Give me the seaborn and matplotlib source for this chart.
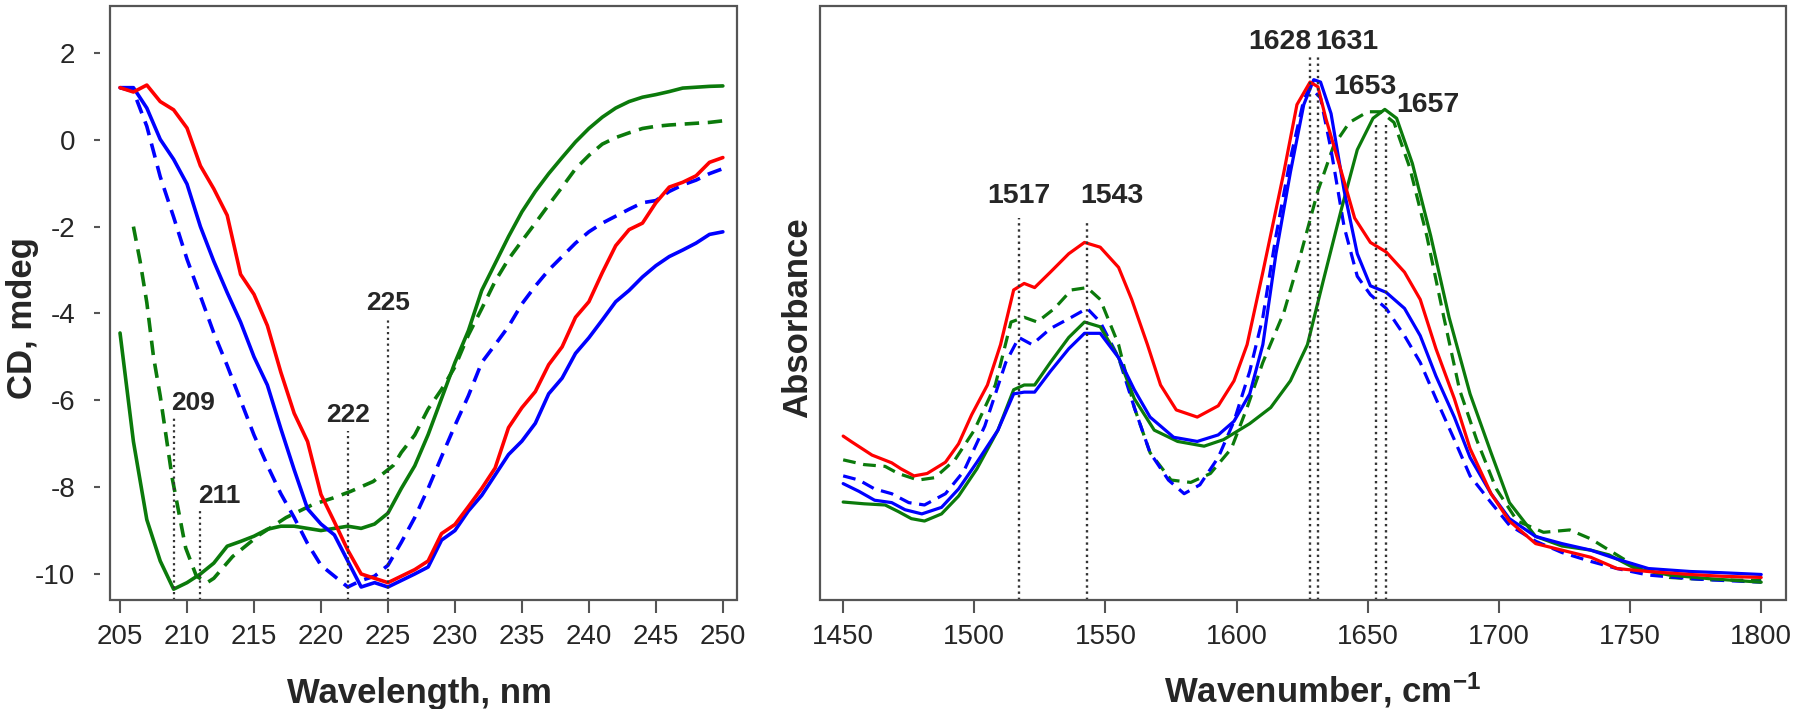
import numpy as np
import pandas as pd
import matplotlib
matplotlib.use("Agg")
import matplotlib.pyplot as plt
from matplotlib.patches import Rectangle
import seaborn as sns

# ---------------- CD spectra (left panel) ----------------
cd_red_x = list(range(205, 251))
cd_red_y = [1.2, 1.1, 1.26, 0.88, 0.69, 0.27, -0.6, -1.13, -1.74, -3.1, -3.56, -4.28,
            -5.35, -6.3, -6.95, -8.17, -8.8, -9.45, -10.0, -10.1, -10.2, -10.05, -9.9,
            -9.7, -9.07, -8.86, -8.45, -8.03, -7.56, -6.63, -6.17, -5.8, -5.18, -4.77,
            -4.09, -3.73, -3.06, -2.44, -2.07, -1.92, -1.45, -1.09, -0.98, -0.83, -0.52, -0.41]

cd_blue_x = list(range(205, 251))
cd_blue_y = [1.2, 1.2, 0.73, 0.01, -0.45, -1.02, -2.0, -2.8, -3.52, -4.2, -5.0, -5.65,
             -6.65, -7.6, -8.5, -8.85, -9.1, -9.7, -10.3, -10.2, -10.3, -10.15, -10.0,
             -9.84, -9.22, -9.0, -8.55, -8.19, -7.72, -7.25, -6.94, -6.53, -5.85, -5.49,
             -4.92, -4.56, -4.15, -3.73, -3.47, -3.16, -2.9, -2.69, -2.54, -2.38, -2.18, -2.12]

cd_blue_d_x = list(range(205, 250)) + [250.4]
cd_blue_d_y = [1.2, 1.12, 0.31, -0.85, -1.78, -2.75, -3.6, -4.45, -5.2, -6.0, -6.8, -7.5,
               -8.15, -8.7, -9.3, -9.8, -10.05, -10.3, -10.15, -10.05, -9.8, -9.27, -8.7,
               -8.03, -7.3, -6.58, -5.9, -5.13, -4.72, -4.3, -3.78, -3.37, -3.0, -2.69,
               -2.38, -2.12, -1.92, -1.76, -1.6, -1.45, -1.4, -1.19, -1.04, -0.93, -0.78, -0.62]

cd_green_x = [205, 205.6] + list(range(206, 251))
cd_green_y = [-4.45, -5.95, -6.95, -8.75, -9.7, -10.35, -10.2, -10.0, -9.75, -9.36, -9.25,
              -9.13, -8.97, -8.9, -8.9, -8.95, -9.0, -8.95, -8.9, -8.95, -8.85, -8.6, -8.03,
              -7.51, -6.79, -5.96, -5.13, -4.4, -3.47, -2.85, -2.23, -1.66, -1.19, -0.78,
              -0.41, -0.05, 0.26, 0.52, 0.73, 0.88, 0.98, 1.04, 1.11, 1.19, 1.21, 1.23, 1.24]

cd_green_d_x = [206, 206.5, 207, 207.5, 208, 208.9, 209.9, 210.7, 211.5, 212, 213.4, 215.4,
                217.4, 219.4, 220.9, 222.2, 223.9, 225.4, 226, 227, 228, 229, 230, 231,
                232, 233, 234, 235, 236, 237, 238, 239, 240, 241, 242, 243, 244, 245, 246,
                247, 248, 249, 250.4]
cd_green_d_y = [-2.0, -2.8, -3.75, -5.0, -5.9, -7.8, -9.4, -10.05, -10.2, -10.1, -9.6, -9.1,
                -8.7, -8.4, -8.25, -8.1, -7.87, -7.5, -7.2, -6.8, -6.2, -5.75, -5.23, -4.5,
                -3.89, -3.26, -2.75, -2.33, -1.92, -1.5, -1.09, -0.67, -0.36, -0.1, 0.05,
                0.16, 0.26, 0.31, 0.34, 0.36, 0.38, 0.4, 0.45]

cd_marks = [209, 211, 222, 225]
cd_mark_top = [-6.4, -8.5, -6.7, -4.13]
cd_label_y = [-6.06, -8.2, -6.35, -3.77]

# ---------------- FTIR spectra (right panel) ----------------
ir_red_x = [1450, 1453, 1461, 1468.5, 1472, 1477, 1482, 1489, 1494, 1499, 1505, 1510, 1515,
            1519, 1523, 1529, 1536, 1542, 1548, 1555, 1560, 1566, 1571, 1577, 1585, 1593,
            1599, 1604, 1610, 1618, 1623, 1628, 1631, 1634, 1640, 1645, 1651, 1657, 1664,
            1670, 1676, 1683, 1689, 1697, 1704, 1714, 1724, 1735, 1745, 1757, 1773, 1785, 1800]
ir_red_y = [0.276, 0.267, 0.244, 0.231, 0.221, 0.209, 0.213, 0.232, 0.263, 0.312, 0.362,
            0.43, 0.522, 0.533, 0.526, 0.552, 0.583, 0.602, 0.594, 0.56, 0.506, 0.43, 0.362,
            0.32, 0.308, 0.327, 0.369, 0.43, 0.552, 0.72, 0.834, 0.872, 0.864, 0.811, 0.72,
            0.643, 0.602, 0.586, 0.552, 0.506, 0.423, 0.339, 0.255, 0.179, 0.133, 0.095,
            0.084, 0.072, 0.053, 0.048, 0.043, 0.04, 0.038]

ir_blue_x = [1450, 1456, 1462, 1468.5, 1473.6, 1480, 1487.5, 1494, 1501, 1509, 1515, 1519,
             1523, 1529, 1536, 1542, 1548, 1555, 1561, 1567, 1576, 1585, 1593, 1599, 1605,
             1610, 1615, 1620.5, 1625.6, 1629.4, 1632, 1636, 1641, 1646, 1651, 1657, 1664,
             1670, 1676, 1683, 1689, 1697, 1704, 1714, 1724, 1735, 1745, 1757, 1773, 1785, 1800]
ir_blue_y = [0.196, 0.183, 0.168, 0.164, 0.152, 0.145, 0.156, 0.187, 0.232, 0.286, 0.347,
             0.35, 0.35, 0.385, 0.423, 0.449, 0.449, 0.408, 0.354, 0.308, 0.274, 0.267,
             0.278, 0.301, 0.347, 0.43, 0.583, 0.72, 0.834, 0.876, 0.872, 0.819, 0.689,
             0.583, 0.529, 0.518, 0.491, 0.445, 0.377, 0.308, 0.24, 0.179, 0.137, 0.107,
             0.095, 0.084, 0.069, 0.053, 0.048, 0.046, 0.043]

ir_blue_d_x = [1450, 1456, 1462, 1468.5, 1475, 1481, 1489, 1496, 1504, 1512, 1517, 1522,
               1529, 1537, 1543, 1548, 1555, 1561, 1567, 1574, 1580, 1586, 1593, 1599, 1605,
               1610, 1615, 1620.5, 1625.6, 1628, 1632, 1636, 1641, 1646, 1651, 1657, 1664,
               1670, 1676, 1683, 1689, 1697, 1704, 1714, 1724, 1735, 1745, 1757, 1773, 1785, 1800]
ir_blue_d_y = [0.209, 0.202, 0.187, 0.179, 0.164, 0.16, 0.179, 0.217, 0.293, 0.4, 0.442,
               0.43, 0.457, 0.476, 0.491, 0.468, 0.408, 0.324, 0.248, 0.202, 0.179, 0.194,
               0.24, 0.301, 0.385, 0.476, 0.613, 0.743, 0.842, 0.864, 0.845, 0.758, 0.628,
               0.545, 0.514, 0.491, 0.445, 0.4, 0.339, 0.27, 0.209, 0.164, 0.126, 0.099,
               0.08, 0.065, 0.053, 0.042, 0.036, 0.033, 0.03]

ir_green_x = [1450, 1458, 1466, 1471, 1476, 1481, 1487.5, 1494, 1501, 1509, 1515, 1519, 1523,
              1529, 1536, 1542, 1548, 1555, 1561, 1568.6, 1577.5, 1587.6, 1595, 1605, 1613,
              1620.5, 1627, 1633, 1640, 1646, 1652, 1656.5, 1661, 1667, 1674, 1681, 1689,
              1697, 1704, 1714, 1724, 1735, 1742, 1752, 1765, 1780, 1800]
ir_green_y = [0.165, 0.162, 0.16, 0.149, 0.137, 0.133, 0.145, 0.175, 0.221, 0.286, 0.354,
              0.362, 0.362, 0.4, 0.442, 0.468, 0.46, 0.408, 0.339, 0.286, 0.267, 0.259,
              0.27, 0.297, 0.324, 0.369, 0.43, 0.537, 0.659, 0.758, 0.811, 0.826, 0.811,
              0.735, 0.613, 0.476, 0.347, 0.248, 0.164, 0.107, 0.091, 0.084, 0.076, 0.053,
              0.042, 0.036, 0.03]

ir_green_d_x = [1450, 1458, 1466, 1471, 1478.6, 1485, 1492.6, 1500, 1508, 1514, 1519, 1524,
                1530.6, 1537, 1543, 1548, 1555, 1561, 1567, 1575, 1582.5, 1590, 1598, 1604,
                1610, 1618, 1624, 1631, 1637, 1643, 1650, 1655, 1660, 1666, 1672.5, 1679,
                1685, 1691.5, 1699, 1707, 1717, 1727, 1735, 1742, 1752, 1765, 1780, 1800]
ir_green_d_y = [0.236, 0.228, 0.225, 0.213, 0.202, 0.206, 0.236, 0.286, 0.362, 0.468, 0.476,
                0.468, 0.491, 0.522, 0.526, 0.506, 0.43, 0.324, 0.248, 0.202, 0.198, 0.213,
                0.255, 0.324, 0.4, 0.484, 0.575, 0.689, 0.765, 0.804, 0.822, 0.822, 0.804,
                0.728, 0.613, 0.476, 0.354, 0.27, 0.187, 0.133, 0.114, 0.118, 0.103, 0.084,
                0.057, 0.038, 0.034, 0.033]

ir_marks = [1517, 1543, 1628, 1631, 1653, 1657]
ir_mark_top = [0.643, 0.64, 0.92, 0.92, 0.80, 0.80]
ir_label_x = [1517, 1540.5, 1628.6, 1630.0, 1649, 1661]
ir_label_y = [0.68, 0.68, 0.94, 0.94, 0.864, 0.834]
ir_label_ha = ["center", "left", "right", "left", "center", "left"]


def long_form(series):
    frames = []
    for name, xs, ys in series:
        frames.append(pd.DataFrame({"x": xs, "y": ys, "series": name}))
    return pd.concat(frames, ignore_index=True)


RED, BLUE, GREEN = "#ff0000", "#0000ff", "#0b7a0b"
palette = {"green_d": GREEN, "blue_d": BLUE, "green": GREEN, "blue": BLUE, "red": RED}
dashes = {"green_d": (4, 2.4), "blue_d": (4, 2.4), "green": "", "blue": "", "red": ""}
order = ["green_d", "blue_d", "green", "blue", "red"]

df_cd = long_form([
    ("red", cd_red_x, cd_red_y), ("blue", cd_blue_x, cd_blue_y),
    ("blue_d", cd_blue_d_x, cd_blue_d_y), ("green", cd_green_x, cd_green_y),
    ("green_d", cd_green_d_x, cd_green_d_y)])
df_ir = long_form([
    ("red", ir_red_x, ir_red_y), ("blue", ir_blue_x, ir_blue_y),
    ("blue_d", ir_blue_d_x, ir_blue_d_y), ("green", ir_green_x, ir_green_y),
    ("green_d", ir_green_d_x, ir_green_d_y)])

sns.set_style("white")
plt.rcParams["font.family"] = ["Liberation Sans", "DejaVu Sans"]
plt.rcParams["axes.unicode_minus"] = False
plt.rcParams["mathtext.default"] = "regular"

fig = plt.figure(figsize=(18, 7.09), dpi=100)
ax1 = fig.add_axes([0.0611, 0.1537, 0.3483, 0.8378])
ax2 = fig.add_axes([0.4556, 0.1537, 0.5367, 0.8378])

frame_col = "#555555"
tick_col = "#555555"

for ax, df, lw in [(ax1, df_cd, 2.6), (ax2, df_ir, 2.3)]:
    sns.lineplot(data=df, x="x", y="y", hue="series", style="series",
                 hue_order=order, style_order=order, palette=palette, dashes=dashes,
                 sort=False, estimator=None, legend=False, linewidth=lw, ax=ax)
    for sp in ax.spines.values():
        sp.set_visible(False)
    ax.add_patch(Rectangle((0, 0), 1, 1, transform=ax.transAxes, fill=False,
                           edgecolor=frame_col, linewidth=1.6, clip_on=False, zorder=5))
    ax.set_xlabel("")
    ax.set_ylabel("")

# left panel axes
ax1.set_xlim(204.25, 251.05)
ax1.set_ylim(-10.6, 3.08)
ax1.set_xticks(range(205, 251, 5))
ax1.set_yticks(range(-10, 3, 2))
ax1.spines["left"].set_position(("outward", 7))
ax1.tick_params(axis="x", direction="out", length=9, width=1.5, color=tick_col,
                labelsize=20, pad=8, bottom=True)
ax1.tick_params(axis="y", direction="out", length=4, width=1.5, color=tick_col,
                labelsize=20, pad=14, left=True)
ax1.set_xlabel("Wavelength, nm", fontsize=25, fontweight="bold")
ax1.set_ylabel("CD, mdeg", fontsize=25, fontweight="bold")
ax1.xaxis.set_label_coords(0.494, -0.13)
ax1.yaxis.set_label_coords(-0.113, 0.475)

for x, top, ly in zip(cd_marks, cd_mark_top, cd_label_y):
    ax1.plot([x, x], [-10.6, top], color="#333333", linestyle=(0, (1, 1.6)),
             linewidth=1.6, zorder=4)
    ha = "left" if x < 215 else "center"
    tx = x - 0.2 if ha == "left" else x
    ax1.text(tx, ly, str(x), ha=ha, va="center", fontsize=19, fontweight="bold")

# right panel axes
ax2.set_xlim(1441.2, 1809.5)
ax2.set_ylim(0, 1)
ax2.set_xticks(range(1450, 1801, 50))
ax2.set_yticks([])
ax2.tick_params(axis="x", direction="out", length=9, width=1.5, color=tick_col,
                labelsize=20, pad=8, bottom=True)
ax2.set_xlabel("Wavenumber, cm$^{-1}$", fontsize=25, fontweight="bold")
ax2.set_ylabel("Absorbance", fontsize=25, fontweight="bold")
ax2.xaxis.set_label_coords(0.52, -0.118)
ax2.yaxis.set_label_coords(-0.006, 0.475)

for x, top in zip(ir_marks, ir_mark_top):
    ax2.plot([x, x], [0, top], color="#333333", linestyle=(0, (1, 1.6)),
             linewidth=1.7, zorder=4)
for x, ly, ha, lab in zip(ir_label_x, ir_label_y, ir_label_ha, ir_marks):
    ax2.text(x, ly, str(lab), ha=ha, va="center", fontsize=20.5, fontweight="bold")

fig.savefig("out.png", dpi=100)
